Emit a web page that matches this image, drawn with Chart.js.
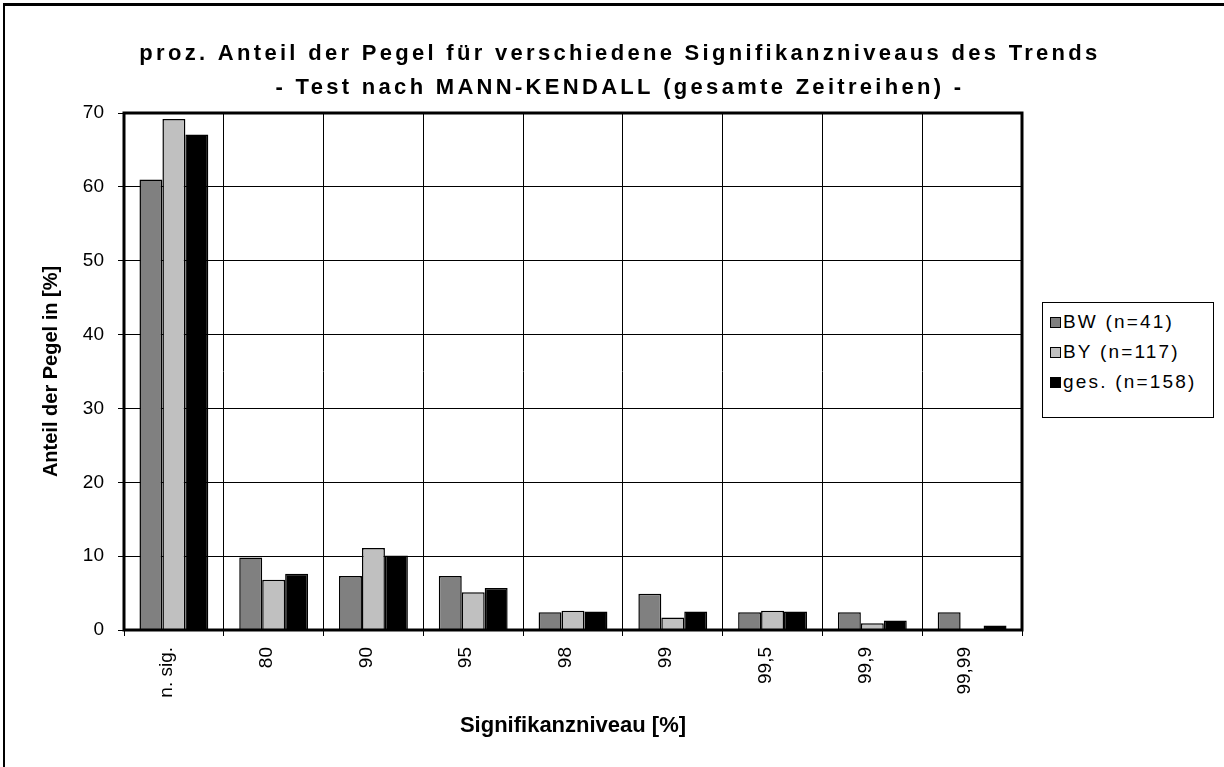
<!DOCTYPE html>
<html>
<head>
<meta charset="utf-8">
<script src="https://cdn.jsdelivr.net/npm/chart.js@4"></script>
<style>
  body { margin:0; background:#fff; }
  #wrap { position:relative; width:1224px; height:767px; }
  #frame { position:absolute; left:3px; top:3px; width:1221px; height:764px; border-top:3px solid #000; border-left:2px solid #000; pointer-events:none; }
  #legend { position:absolute; left:1042px; top:302px; width:170px; height:114px; border:1px solid #000; background:#fff;
            font-family:"Liberation Sans", Arial, sans-serif; font-size:19px; letter-spacing:2.2px; }
  .item { position:absolute; left:20px; height:22px; line-height:22px; white-space:pre; }
  .box { position:absolute; left:-13px; top:6px; width:9px; height:9px; border:1px solid #000; }
</style>
</head>
<body>
<div id="wrap">
  <canvas id="chart" width="1224" height="767"></canvas>
  <div id="legend"></div>
  <div id="frame"></div>
</div>
<script>
// categories (Signifikanzniveau)
var levels = ["n. sig.", "80", "90", "95", "98", "99", "99,5", "99,9", "99,99"];
// percentages
var bw  = [61.0, 9.8, 7.3, 7.3, 2.4, 4.9, 2.4, 2.4, 2.4];
var by  = [69.2, 6.8, 11.1, 5.1, 2.6, 1.7, 2.6, 0.9, 0];
var ges = [67.1, 7.6, 10.1, 5.7, 2.5, 2.5, 2.5, 1.3, 0.6];
var seriesNames = ["BW (n=41)", "BY (n=117)", "ges. (n=158)"];
var seriesColors = ["#808080", "#c0c0c0", "#000000"];
var yTicks = [0, 10, 20, 30, 40, 50, 60, 70];

var font = '"Liberation Sans", Arial, sans-serif';

// thick box around the plot area
var plotFrame = {
  id: 'plotFrame',
  afterDatasetsDraw: function(chart) {
    var a = chart.chartArea, c = chart.ctx;
    c.save();
    c.strokeStyle = '#000';
    c.lineWidth = 3;
    c.strokeRect(a.left, a.top, a.right - a.left, a.bottom - a.top);
    c.restore();
  }
};

var ctx = document.getElementById('chart').getContext('2d');
var chart = new Chart(ctx, {
  type: 'bar',
  data: {
    labels: levels,
    datasets: [bw, by, ges].map(function(d, i) {
      return {
        label: seriesNames[i],
        data: d,
        backgroundColor: seriesColors[i],
        borderColor: '#000',
        borderWidth: 1.5,
        barPercentage: 1,
        categoryPercentage: 0.69
      };
    })
  },
  options: {
    responsive: false,
    animation: false,
    layout: { padding: { left: 16, right: 0, top: 0, bottom: 0 } },
    plugins: {
      legend: { display: false },
      tooltip: { enabled: false },
      title: {
        display: true,
        text: ["proz. Anteil der Pegel für verschiedene Signifikanzniveaus des Trends",
               "- Test nach MANN-KENDALL (gesamte Zeitreihen) -"],
        color: '#000',
        font: { family: font, size: 22, weight: 'bold', lineHeight: '34px' },
        padding: { top: 37, bottom: 8 }
      }
    },
    scales: {
      x: {
        grid: { color: '#000', lineWidth: 1, offset: true, tickLength: 6 },
        border: { display: false },
        ticks: { color: '#000', font: { family: font, size: 19 }, maxRotation: 90, minRotation: 90, padding: 11, labelOffset: -7 },
        title: { display: true, text: 'Signifikanzniveau [%]', color: '#000',
                 font: { family: font, size: 22, weight: 'bold' }, padding: { top: 0, bottom: 28 } },
        afterFit: function(s) { s.height = 137; }
      },
      y: {
        min: 0, max: 70,
        grid: { color: '#000', lineWidth: 1, tickLength: 6 },
        border: { display: false },
        afterBuildTicks: function(s) { s.ticks = yTicks.map(function(v) { return { value: v }; }); },
        ticks: { color: '#000', font: { family: font, size: 19 }, padding: 14 },
        title: { display: true, text: 'Anteil der Pegel in [%]', color: '#000',
                 font: { family: font, size: 20, weight: 'bold' }, padding: { top: 23, bottom: 0 } },
        afterFit: function(s) { s.width = 108; }
      },
      right: {
        position: 'right',
        display: true,
        grid: { display: false },
        border: { display: false },
        ticks: { display: false },
        afterFit: function(s) { s.width = 202; }
      }
    }
  },
  plugins: [plotFrame]
});

// the title in the original is set wider
var tb = chart.titleBlock;
var titleDraw = tb.draw;
tb.draw = function() {
  var c = this.ctx;
  c.save();
  c.letterSpacing = '3.3px';
  titleDraw.apply(this, arguments);
  c.restore();
};
chart.draw();

// legend
var leg = document.getElementById('legend');
seriesNames.forEach(function(name, i) {
  var it = document.createElement('div');
  it.className = 'item';
  it.style.top = (8 + i * 30) + 'px';
  it.textContent = name;
  var b = document.createElement('span');
  b.className = 'box';
  b.style.background = seriesColors[i];
  it.appendChild(b);
  leg.appendChild(it);
});
</script>
</body>
</html>
